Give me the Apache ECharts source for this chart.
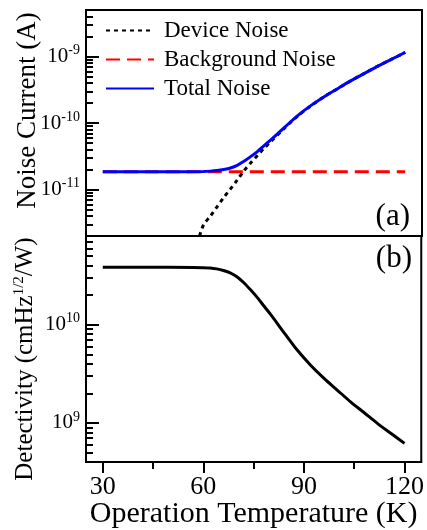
<!DOCTYPE html>
<html>
<head>
<meta charset="utf-8">
<script src="https://cdn.jsdelivr.net/npm/echarts@6/dist/echarts.min.js"></script>
<style>
  html, body { margin: 0; padding: 0; background: #fff; }
  #chart { width: 427px; height: 530px; }
</style>
</head>
<body>
<div id="chart"></div>
<script>
// temperatures (K) for total noise and detectivity
var temps = [30, 40, 50, 60, 62, 64, 66, 68, 70, 72, 74, 76, 78, 80, 84, 88, 92, 96, 100, 104, 108, 112, 116, 120];
// total noise current (A)
var totalNoise = [1.85e-11, 1.85e-11, 1.85e-11, 1.87e-11, 1.89e-11, 1.93e-11, 2.0e-11, 2.11e-11, 2.31e-11, 2.65e-11,
    3.12e-11, 3.72e-11, 4.57e-11, 5.57e-11, 8.51e-11, 1.29e-10, 1.84e-10, 2.51e-10, 3.31e-10, 4.37e-10,
    5.62e-10, 7.24e-10, 9.12e-10, 1.15e-9];
// background noise (A), flat
var bgTemps = [30, 60, 90, 120];
var bgNoise = [1.85e-11, 1.85e-11, 1.85e-11, 1.85e-11];
// device noise (A)
var devTemps = [58.8, 60, 62, 64, 66, 68, 70, 72, 74, 76, 78, 80, 84, 88, 92, 96, 100, 104, 108, 112, 116, 120];
var devNoise = [2.0e-12, 2.95e-12, 3.98e-12, 5.5e-12, 7.59e-12, 1.02e-11, 1.38e-11, 1.91e-11, 2.51e-11, 3.24e-11,
    4.17e-11, 5.25e-11, 8.32e-11, 1.27e-10, 1.83e-10, 2.51e-10, 3.31e-10, 4.37e-10, 5.62e-10, 7.24e-10,
    9.12e-10, 1.15e-9];
// detectivity (cmHz^1/2/W)
var detectivity = [3.85e10, 3.85e10, 3.85e10, 3.81e10, 3.78e10, 3.70e10, 3.56e10, 3.37e10, 3.08e10, 2.69e10,
    2.28e10, 1.91e10, 1.56e10, 1.28e10, 8.37e9, 5.52e9, 3.87e9, 2.84e9, 2.15e9, 1.63e9,
    1.27e9, 9.84e8, 7.81e8, 6.19e8];

var xTicks = [30, 60, 90, 120];
var xMinorTicks = [45, 75, 105];

function pairs(xs, ys) {
    var out = [];
    for (var i = 0; i < xs.length; i++) out.push([xs[i], ys[i]]);
    return out;
}

function milli(v) {
    return Math.round(1000 * Math.log10(v));
}

var serif = "'Liberation Serif', 'Times New Roman', serif";

function powLabel(v) {
    var e = Math.log10(v);
    var r = Math.round(e);
    if (Math.abs(e - r) > 1e-6) return '';
    return '{b|10}{s|' + r + '}';
}

var labelRich = {
    b: { fontFamily: serif, fontSize: 21, color: '#000' },
    s: { fontFamily: serif, fontSize: 14, color: '#000', padding: [0, 0, 12, 0] }
};

var topMin = 2e-12, topMax = 5e-9;
var botMin = 4e8, botMax = 8e10;

// minor ticks k*10^n: one hidden axis per k, in log10 space shifted by log10(k),
// so its default one-decade ticks fall on k*10^n
function minorAxes(grid, lo, hi) {
    var axes = [];
    for (var k = 2; k <= 9; k++) {
        var s = Math.round(1000 * Math.log10(k));
        axes.push({
            type: 'value', gridIndex: grid, position: 'left',
            min: milli(lo) - s, max: milli(hi) - s,
            splitNumber: 3, minInterval: 1000, maxInterval: 1000,
            axisLine: { show: false },
            axisTick: { show: true, inside: true, length: 7, lineStyle: { color: '#000', width: 2 } },
            axisLabel: { show: false },
            splitLine: { show: false }
        });
    }
    return axes;
}

var topAxis = {
    type: 'log', gridIndex: 0, min: topMin, max: topMax, position: 'left',
    name: 'Noise Current (A)', nameLocation: 'middle', nameGap: 45, nameMoveOverlap: false,
    nameTextStyle: { fontFamily: serif, fontSize: 27, color: '#000', padding: [0, 0, 0, 25] },
    axisLine: { show: true, lineStyle: { color: '#000', width: 2 } },
    axisTick: { show: true, inside: true, length: 13, lineStyle: { color: '#000', width: 2 } },
    axisLabel: { margin: 6, formatter: powLabel, rich: labelRich },
    splitLine: { show: false }
};
var botAxis = {
    type: 'log', gridIndex: 1, min: botMin, max: botMax, position: 'left',
    name: 'Detectivity (cmHz{s|1/2}/W)', nameLocation: 'middle', nameGap: 47, nameMoveOverlap: false,
    nameTextStyle: {
        fontFamily: serif, fontSize: 25, color: '#000', padding: [0, 20, 0, 0],
        rich: { s: { fontFamily: serif, fontSize: 15, color: '#000', padding: [0, 0, 12, 0] } }
    },
    axisLine: { show: true, lineStyle: { color: '#000', width: 2 } },
    axisTick: { show: true, inside: true, length: 13, lineStyle: { color: '#000', width: 2 } },
    axisLabel: { margin: 6, formatter: powLabel, rich: labelRich },
    splitLine: { show: false }
};

var yAxes = [topAxis].concat(minorAxes(0, topMin, topMax));
var botIndex = yAxes.length;
yAxes = yAxes.concat([botAxis]).concat(minorAxes(1, botMin, botMax));

var chart = echarts.init(document.getElementById('chart'));
var option = {
    animation: false,
    backgroundColor: '#fff',
    title: [
        { text: '(a)', right: 12, top: 196, textStyle: { fontFamily: serif, fontSize: 31, fontWeight: 'normal', color: '#000' } },
        { text: '(b)', right: 10, top: 238, textStyle: { fontFamily: serif, fontSize: 31, fontWeight: 'normal', color: '#000' } }
    ],
    legend: {
        orient: 'vertical',
        left: 100,
        top: 14,
        itemWidth: 48,
        itemHeight: 14,
        itemGap: 6,
        data: ['Device Noise', 'Background Noise', 'Total Noise'],
        itemStyle: { opacity: 0 },
        textStyle: { fontFamily: serif, fontSize: 23, color: '#000', padding: [0, 0, 0, 5] }
    },
    grid: [
        { left: 86, right: 5, top: 10, height: 226, show: true, borderColor: '#000', borderWidth: 2, backgroundColor: 'transparent' },
        { left: 86, right: 5, top: 236, height: 227, show: true, borderColor: '#000', borderWidth: 2, backgroundColor: 'transparent' }
    ],
    xAxis: [
        { type: 'value', gridIndex: 0, min: 25, max: 125, show: false },
        {
            type: 'value', gridIndex: 1, min: 25, max: 125, position: 'bottom',
            name: 'Operation Temperature (K)', nameLocation: 'middle', nameGap: 37, nameMoveOverlap: false,
            nameTextStyle: { fontFamily: serif, fontSize: 30, color: '#000' },
            axisLine: { show: true, lineStyle: { color: '#000', width: 2 } },
            axisTick: { show: true, inside: false, length: 11, customValues: xTicks, lineStyle: { color: '#000', width: 2 } },
            axisLabel: { customValues: xTicks, margin: 12, fontFamily: serif, fontSize: 26, color: '#000' },
            splitLine: { show: false }
        },
        {
            type: 'value', gridIndex: 1, min: 25, max: 125, position: 'bottom',
            axisLine: { show: false },
            axisTick: { show: true, inside: false, length: 7, customValues: xMinorTicks, lineStyle: { color: '#000', width: 2 } },
            axisLabel: { show: false },
            splitLine: { show: false }
        }
    ],
    yAxis: yAxes,
    series: [
        {
            name: 'Device Noise', type: 'line', xAxisIndex: 0, yAxisIndex: 0,
            data: pairs(devTemps, devNoise), symbol: 'none', smooth: 0.3,
            color: '#000',
            lineStyle: { color: '#000', width: 3, type: [4, 4] }
        },
        {
            name: 'Background Noise', type: 'line', xAxisIndex: 0, yAxisIndex: 0,
            data: pairs(bgTemps, bgNoise), symbol: 'none',
            color: '#ff0000',
            lineStyle: { color: '#ff0000', width: 3, type: [14, 7] }
        },
        {
            name: 'Total Noise', type: 'line', xAxisIndex: 0, yAxisIndex: 0,
            data: pairs(temps, totalNoise), symbol: 'none', smooth: 0.3,
            color: '#0000ff',
            lineStyle: { color: '#0000ff', width: 3 }
        },
        {
            name: 'Detectivity', type: 'line', xAxisIndex: 1, yAxisIndex: botIndex,
            data: pairs(temps, detectivity), symbol: 'none', smooth: 0.3,
            color: '#000',
            lineStyle: { color: '#000', width: 3 }
        }
    ]
};
chart.setOption(option);
window.addEventListener('resize', function() {
    chart.resize();
});
</script>
</body>
</html>
